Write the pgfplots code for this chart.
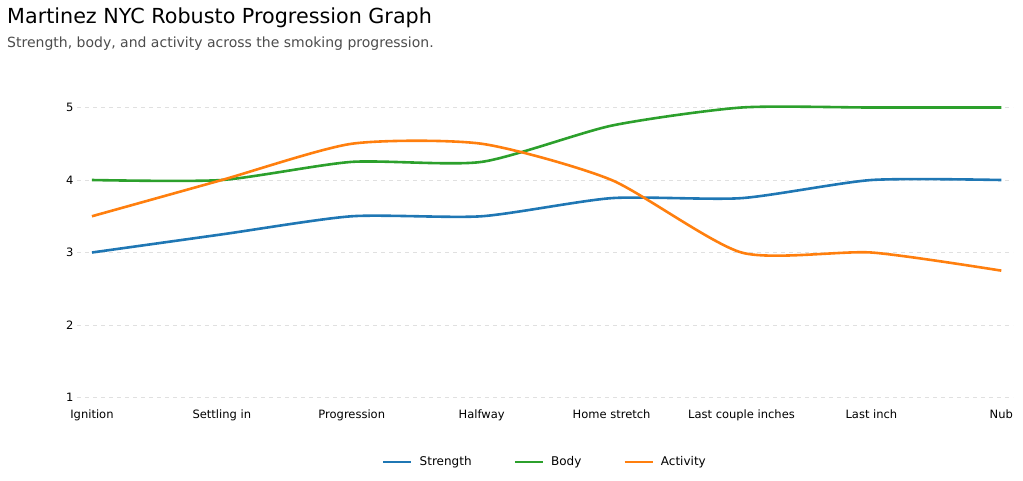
\documentclass[border=0pt]{standalone}
\usepackage{fontspec}
\setmainfont{DejaVu Sans}
\usepackage{pgfplots}
\pgfplotsset{compat=1.18}
\definecolor{cstr}{HTML}{1F77B4}
\definecolor{cbody}{HTML}{2CA02C}
\definecolor{cact}{HTML}{FF7F0E}
\definecolor{cgrid}{HTML}{E0E0E0}
\begin{document}
\begin{tikzpicture}
\useasboundingbox (0pt,0pt) rectangle (1023pt,-480pt);
\node[anchor=base west,font=\fontsize{20.7}{24}\selectfont,text=black,inner sep=0] at (7pt,-23pt) {Martinez NYC Robusto Progression Graph};
\node[anchor=base west,font=\fontsize{14}{16}\selectfont,text=black!70,inner sep=0] at (7pt,-47pt) {Strength, body, and activity across the smoking progression.};
\begin{axis}[
  at={(77pt,-397.5pt)}, anchor=south west,
  scale only axis, width=936pt, height=290pt,
  xmin=-0.115, xmax=7.09, ymin=1, ymax=5,
  clip=false,
  axis line style={draw=none},
  major tick length=0pt,
  xtick={0,...,7},
  xticklabels={Ignition,Settling in,Progression,Halfway,Home stretch,Last couple inches,Last inch,Nub},
  ytick={1,2,3,4,5},
  ymajorgrids, grid style={cgrid, line width=0.8pt, dash pattern=on 4pt off 4pt},
  xticklabel style={font=\fontsize{11.5}{13}\selectfont, yshift=-9pt},
  yticklabel style={font=\fontsize{11.5}{13}\selectfont},
  /pgf/number format/assume math mode=true,
  legend columns=3,
  legend style={at={(0.5,-0.222)}, anchor=center, draw=none, fill=none,
    font=\fontsize{12}{14}\selectfont,
    /tikz/every odd column/.append style={column sep=5pt},
    /tikz/every even column/.append style={column sep=40pt}},
  legend image code/.code={\draw[#1, line width=2.5pt] (0pt,0pt) -- (28pt,0pt);},
  every axis plot/.append style={line width=2.6pt, smooth, tension=0.4},
]
\addplot[cstr] coordinates {(0,3) (1,3.25) (2,3.5) (3,3.5) (4,3.75) (5,3.75) (6,4) (7,4)};
\addlegendentry{Strength}
\addplot[cbody] coordinates {(0,4) (1,4) (2,4.25) (3,4.25) (4,4.75) (5,5) (6,5) (7,5)};
\addlegendentry{Body}
\addplot[cact] coordinates {(0,3.5) (1,4) (2,4.5) (3,4.5) (4,4) (5,3) (6,3) (7,2.75)};
\addlegendentry{Activity}
\end{axis}
\end{tikzpicture}
\end{document}
